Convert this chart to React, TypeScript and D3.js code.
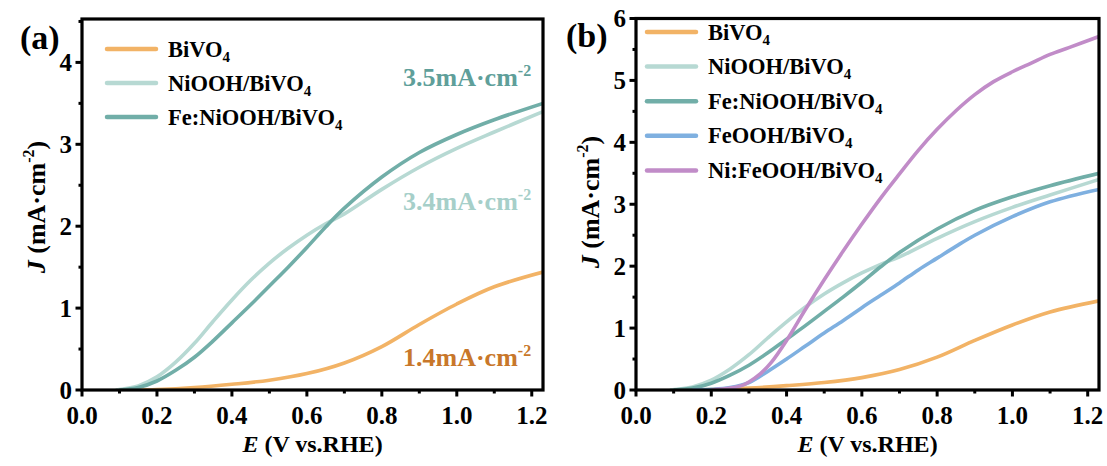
import React from "react";
import * as d3 from "d3";

// Applied potential (V vs. RHE) and photocurrent density (mA·cm⁻²) for each photoanode
const bivoE = [0.13, 0.2, 0.3, 0.4, 0.5, 0.6, 0.7, 0.8, 0.9, 1.0, 1.1, 1.23];
const bivoJ = [0, 0.006, 0.03, 0.07, 0.12, 0.2, 0.33, 0.53, 0.8, 1.05, 1.26, 1.44];

const niE = [0.09, 0.15, 0.2, 0.25, 0.3, 0.35, 0.4, 0.45, 0.5, 0.55, 0.6, 0.65, 0.7, 0.8, 0.9, 1.0, 1.1, 1.23];
const niJ = [0, 0.05, 0.16, 0.34, 0.57, 0.84, 1.1, 1.34, 1.55, 1.73, 1.89, 2.03, 2.15, 2.45, 2.72, 2.95, 3.15, 3.4];

const feNiE = [0.1, 0.15, 0.2, 0.25, 0.3, 0.35, 0.4, 0.45, 0.5, 0.55, 0.6, 0.65, 0.7, 0.8, 0.9, 1.0, 1.1, 1.23];
const feNiJ = [0, 0.03, 0.11, 0.24, 0.4, 0.6, 0.82, 1.04, 1.27, 1.5, 1.74, 1.99, 2.22, 2.6, 2.9, 3.12, 3.3, 3.5];

const feE = [0.15, 0.2, 0.25, 0.3, 0.35, 0.4, 0.45, 0.5, 0.55, 0.6, 0.65, 0.7, 0.75, 0.8, 0.85, 0.9, 1.0, 1.1, 1.23];
const feJ = [0, 0.01, 0.04, 0.12, 0.3, 0.5, 0.71, 0.92, 1.12, 1.33, 1.53, 1.73, 1.94, 2.13, 2.32, 2.5, 2.8, 3.04, 3.24];

const niFeE = [0.2, 0.25, 0.28, 0.3, 0.33, 0.36, 0.4, 0.45, 0.5, 0.55, 0.6, 0.65, 0.7, 0.75, 0.8, 0.85, 0.9, 0.95, 1.0, 1.05, 1.1, 1.15, 1.23];
const niFeJ = [0, 0.03, 0.07, 0.13, 0.26, 0.45, 0.8, 1.3, 1.78, 2.24, 2.68, 3.1, 3.49, 3.87, 4.21, 4.51, 4.77, 4.98, 5.14, 5.28, 5.42, 5.53, 5.71];

const xTicks = [0, 0.2, 0.4, 0.6, 0.8, 1.0, 1.2];
const xMinor = [0.1, 0.3, 0.5, 0.7, 0.9, 1.1];
const yTicksA = [0, 1, 2, 3, 4];
const yMinorA = [0.5, 1.5, 2.5, 3.5, 4.5];
const yTicksB = [0, 1, 2, 3, 4, 5, 6];
const yMinorB = [0.5, 1.5, 2.5, 3.5, 4.5, 5.5];

const FONT = "'Liberation Serif', 'Times New Roman', serif";

type Series = { name: string; sub: string; color: string; E: number[]; J: number[] };

const sBi: Series = { name: "BiVO", sub: "4", color: "#f2b366", E: bivoE, J: bivoJ };
const sNi: Series = { name: "NiOOH/BiVO", sub: "4", color: "#b7d9d3", E: niE, J: niJ };
const sFeNi: Series = { name: "Fe:NiOOH/BiVO", sub: "4", color: "#71aea8", E: feNiE, J: feNiJ };
const sFe: Series = { name: "FeOOH/BiVO", sub: "4", color: "#7fb0e0", E: feE, J: feJ };
const sNiFe: Series = { name: "Ni:FeOOH/BiVO", sub: "4", color: "#c18cc8", E: niFeE, J: niFeJ };

type Note = { value: string; color: string; x: number; y: number };

type PanelProps = {
  id: string;
  label: string;
  left: number;
  right: number;
  top: number;
  bottom: number;
  yMax: number;
  yTicks: number[];
  yMinor: number[];
  series: Series[];
  legendX: number;
  legendY: number;
  legendGap: number;
  titleX: number;
  titleY: number;
  labelX: number;
  labelY: number;
  notes: Note[];
};

function Panel(p: PanelProps) {
  const x = d3.scaleLinear().domain([0, 1.23]).range([p.left, p.right]);
  const y = d3.scaleLinear().domain([0, p.yMax]).range([p.bottom, p.top]);
  const path = (s: Series) =>
    d3
      .line<[number, number]>()
      .x((d) => x(d[0]))
      .y((d) => y(d[1]))
      .curve(d3.curveCatmullRom.alpha(0.5))(s.E.map((e, i) => [e, s.J[i]] as [number, number])) || "";
  const cx = (p.left + p.right) / 2;
  return (
    <g>
      <defs>
        <clipPath id={`clip-${p.id}`}>
          <rect x={p.left} y={p.top} width={p.right - p.left} height={p.bottom - p.top} />
        </clipPath>
      </defs>
      <g clipPath={`url(#clip-${p.id})`}>
        {p.series.map((s) => (
          <path key={s.name} d={path(s)} fill="none" stroke={s.color} strokeWidth={3.6} strokeLinejoin="round" />
        ))}
      </g>
      {/* frame */}
      <rect x={p.left} y={p.top} width={p.right - p.left} height={p.bottom - p.top} fill="none" stroke="#000" strokeWidth={3.2} />
      {/* x ticks */}
      {xTicks.map((t) => (
        <g key={`xt${t}`}>
          <line x1={x(t)} x2={x(t)} y1={p.bottom} y2={p.bottom + 6.5} stroke="#000" strokeWidth={3} />
          <text x={x(t)} y={p.bottom + 34} textAnchor="middle" fontFamily={FONT} fontWeight="bold" fontSize={25}>
            {t.toFixed(1)}
          </text>
        </g>
      ))}
      {xMinor.map((t) => (
        <line key={`xm${t}`} x1={x(t)} x2={x(t)} y1={p.bottom} y2={p.bottom + 3.5} stroke="#000" strokeWidth={3} />
      ))}
      {/* y ticks */}
      {p.yTicks.map((t) => (
        <g key={`yt${t}`}>
          <line x1={p.left - 6.5} x2={p.left} y1={y(t)} y2={y(t)} stroke="#000" strokeWidth={3} />
          <text x={p.left - 10} y={y(t) + 8.5} textAnchor="end" fontFamily={FONT} fontWeight="bold" fontSize={25}>
            {t}
          </text>
        </g>
      ))}
      {p.yMinor.map((t) => (
        <line key={`ym${t}`} x1={p.left - 3.5} x2={p.left} y1={y(t)} y2={y(t)} stroke="#000" strokeWidth={3} />
      ))}
      {/* axis titles */}
      <text x={cx} y={p.bottom + 62} textAnchor="middle" fontFamily={FONT} fontWeight="bold" fontSize={24}>
        <tspan fontStyle="italic">E</tspan> (V vs.RHE)
      </text>
      <text
        transform={`translate(${p.titleX},${p.titleY}) rotate(-90)`}
        textAnchor="middle"
        fontFamily={FONT}
        fontWeight="bold"
        fontSize={26}
      >
        <tspan fontStyle="italic">J</tspan> (mA·cm<tspan fontSize={16} dy={-11}>-2</tspan>
        <tspan dy={11}>)</tspan>
      </text>
      {/* panel label */}
      <text x={p.labelX} y={p.labelY} fontFamily={FONT} fontWeight="bold" fontSize={34}>
        {p.label}
      </text>
      {/* legend */}
      {p.series.map((s, i) => {
        const ly = p.legendY + i * p.legendGap;
        return (
          <g key={`lg${s.name}`}>
            <line x1={p.legendX} x2={p.legendX + 49} y1={ly} y2={ly} stroke={s.color} strokeWidth={4.5} strokeLinecap="round" />
            <text x={p.legendX + 61} y={ly + 7.5} fontFamily={FONT} fontWeight="bold" fontSize={22.5}>
              {s.name}
              <tspan fontSize={15} dy={5}>
                {s.sub}
              </tspan>
            </text>
          </g>
        );
      })}
      {/* end-point current annotations */}
      {p.notes.map((n) => (
        <text key={n.value} x={n.x} y={n.y} fontFamily={FONT} fontWeight="bold" fontSize={26} fill={n.color}>
          {n.value}mA·cm<tspan fontSize={16} dy={-10}>-2</tspan>
        </text>
      ))}
    </g>
  );
}

export default function App() {
  return (
    <svg
      width={1107}
      height={466}
      viewBox="0 0 1107 466"
      style={{ position: "absolute", left: 0, top: 0, background: "#fff" }}
    >
      <Panel
        id="a"
        label="(a)"
        left={82}
        right={543}
        top={19}
        bottom={390}
        yMax={4.53}
        yTicks={yTicksA}
        yMinor={yMinorA}
        series={[sBi, sNi, sFeNi]}
        legendX={107}
        legendY={49}
        legendGap={34}
        titleX={45}
        titleY={207}
        labelX={20}
        labelY={49}
        notes={[
          { value: "3.5", color: "#5f9f9a", x: 403, y: 86 },
          { value: "3.4", color: "#a6cfc9", x: 403, y: 210 },
          { value: "1.4", color: "#c8772a", x: 403, y: 366 },
        ]}
      />
      <Panel
        id="b"
        label="(b)"
        left={636}
        right={1099}
        top={18.5}
        bottom={390}
        yMax={6}
        yTicks={yTicksB}
        yMinor={yMinorB}
        series={[sBi, sNi, sFeNi, sFe, sNiFe]}
        legendX={647}
        legendY={32}
        legendGap={34.6}
        titleX={599}
        titleY={202}
        labelX={566}
        labelY={47}
        notes={[]}
      />
    </svg>
  );
}
